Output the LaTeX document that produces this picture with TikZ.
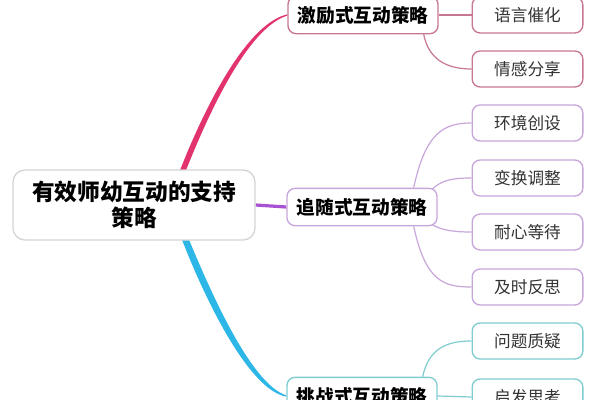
\documentclass[tikz,border=0pt]{standalone}
\usepackage{fontspec}
\setmainfont{Noto Sans CJK SC}
\usetikzlibrary{calc,backgrounds}
\definecolor{crim}{HTML}{E2336E}
\definecolor{purp}{HTML}{A752D2}
\definecolor{cyanb}{HTML}{2DB7E6}
\definecolor{pinkthin}{HTML}{C77793}
\definecolor{purpthin}{HTML}{C8A6DB}
\definecolor{tealthin}{HTML}{7FCDD0}
\definecolor{rootline}{HTML}{D4D4D4}
\definecolor{leaftext}{HTML}{333333}
\tikzset{
  rootbox/.style={draw=rootline, line width=1pt, rounded corners=9pt, fill=white,
    minimum width=181.5pt, minimum height=52.5pt, align=center,
    font=\fontsize{17}{19}\selectfont\bfseries, inner sep=0pt},
  branchbox/.style={draw=#1, line width=1pt, rounded corners=6pt, fill=white,
    minimum width=112.5pt, minimum height=28pt, inner sep=0pt,
    font=\fontsize{14}{16}\selectfont\bfseries},
  leafbox/.style={draw=#1, line width=1pt, rounded corners=6pt, fill=white,
    minimum width=83pt, minimum height=27pt, inner sep=0pt, text=leaftext,
    font=\fontsize{12.5}{14}\selectfont},
  thin/.style={draw=#1, line width=0.9pt},
}
\begin{document}
\begin{tikzpicture}[x=0.75pt,y=-0.75pt]
\useasboundingbox (0,0) rectangle (600,400);

% nodes
\node[rootbox] (root) at (134,205) {有效师幼互动的支持\\[1pt]策略};
\node[branchbox=pinkthin] (b1) at (363,15) {激励式互动策略};
\node[branchbox=purpthin] (b2) at (362,207) {追随式互动策略};
\node[branchbox=tealthin] (b3) at (362,396) {挑战式互动策略};

\node[leafbox=pinkthin] (l1) at (527.5,15) {语言催化};
\node[leafbox=pinkthin] (l2) at (527.5,69) {情感分享};
\node[leafbox=purpthin] (l3) at (527.5,123) {环境创设};
\node[leafbox=purpthin] (l4) at (527.5,178) {变换调整};
\node[leafbox=purpthin] (l5) at (527.5,232) {耐心等待};
\node[leafbox=purpthin] (l6) at (527.5,287) {及时反思};
\node[leafbox=tealthin] (l7) at (527.5,341) {问题质疑};
\node[leafbox=tealthin] (l8) at (527.5,397) {启发思考};

\begin{scope}[on background layer]
\fill[white] (0,0) rectangle (600,400);
% main tapered connectors
\coordinate (t0) at ($(root.north)+(49,0)$);
\fill[crim] ($(t0)+(-3,1)$) .. controls ($(t0)+(24,-68)$) and ($(b1.west)+(-39,8)$) .. ($(b1.west)+(0,-0.6)$)
  -- ($(b1.west)+(0,0.6)$) .. controls ($(b1.west)+(-37,12)$) and ($(t0)+(30,-67)$) .. ($(t0)+(3,1)$) -- cycle;
\coordinate (c0) at ($(root.south)+(52,0)$);
\fill[cyanb] ($(c0)+(-4,-1)$) .. controls ($(c0)+(16,51)$) and ($(b3.west)+(-39,-6)$) .. ($(b3.west)+(0,0.6)$)
  -- ($(b3.west)+(0,-0.6)$) .. controls ($(b3.west)+(-36,-12)$) and ($(c0)+(23,47)$) .. ($(c0)+(3,-1)$) -- cycle;
\draw[purp, line width=2.4pt] (root.east) -- (b2.west);

% branch to leaf connectors
\draw[thin=pinkthin] (b1.east) -- (l1.west);
\draw[thin=pinkthin] ($(b1.south east)+(-15,0)$) .. controls +(5,25) and +(-25,0) .. (l2.west);

\draw[thin=purpthin] ($(b2.north east)+(-24,0)$) .. controls +(12,-55) and +(-28,0) .. (l3.west);
\draw[thin=purpthin] ($(b2.north east)+(-6,2)$) .. controls +(10,-10) and +(-18,0) .. (l4.west);
\draw[thin=purpthin] ($(b2.south east)+(-6,-2)$) .. controls +(10,6) and +(-18,0) .. (l5.west);
\draw[thin=purpthin] ($(b2.south east)+(-24,0)$) .. controls +(12,55) and +(-28,0) .. (l6.west);

\draw[thin=tealthin] ($(b3.north east)+(-15,0)$) .. controls +(6,-28) and +(-25,0) .. (l7.west);
\draw[thin=tealthin] (b3.east) -- (l8.west);
\end{scope}
\end{tikzpicture}
\end{document}
